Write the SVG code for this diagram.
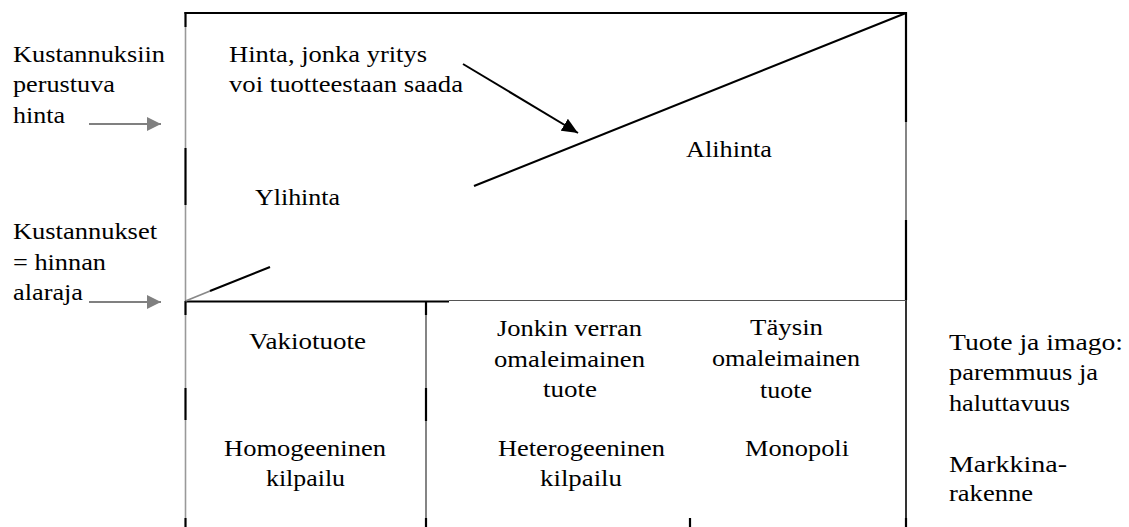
<svg xmlns="http://www.w3.org/2000/svg" width="1129" height="527" viewBox="0 0 1129 527">
<style>
.blk{stroke:#000;stroke-width:2.2;fill:none}
.thin{stroke:#333;stroke-width:1.2;fill:none}
.gry{stroke:#999;stroke-width:1.6;fill:none}
.garr{stroke:#808080;stroke-width:1.8;fill:none}
</style>
<defs>
<marker id="gh" viewBox="0 0 14 14" refX="14" refY="7" markerWidth="14" markerHeight="14" markerUnits="userSpaceOnUse" orient="auto"><path d="M0,0 L14,7 L0,14 Z" fill="#808080"/></marker>
<marker id="bh" viewBox="0 0 16 14" refX="16" refY="7" markerWidth="16" markerHeight="14" markerUnits="userSpaceOnUse" orient="auto"><path d="M0,0 L16,7 L0,14 Z" fill="#000"/></marker>
</defs>
<rect width="1129" height="527" fill="#fff"/>
<g id="frame">
<line class="blk" x1="184.5" y1="13" x2="907" y2="13"/>
<line class="blk" x1="185.5" y1="12" x2="185.5" y2="27"/>
<line class="gry" x1="185.5" y1="27" x2="185.5" y2="148"/>
<line class="blk" x1="185.5" y1="148" x2="185.5" y2="205"/>
<line class="gry" x1="185.5" y1="205" x2="185.5" y2="301"/>
<line class="blk" x1="185.5" y1="301" x2="185.5" y2="315"/>
<line class="gry" x1="185.5" y1="315" x2="185.5" y2="388"/>
<line class="blk" x1="185.5" y1="388" x2="185.5" y2="420"/>
<line class="gry" x1="185.5" y1="420" x2="185.5" y2="518"/>
<line class="blk" x1="185.5" y1="518" x2="185.5" y2="527"/>
<line class="blk" x1="906" y1="12" x2="906" y2="122"/>
<line class="thin" x1="906" y1="122" x2="906" y2="220"/>
<line class="blk" x1="906" y1="220" x2="906" y2="300"/>
<line stroke="#000" stroke-width="1.6" x1="906" y1="300" x2="906" y2="518"/>
<line class="blk" x1="906" y1="518" x2="906" y2="527" stroke-width="2.6"/>
<line class="blk" x1="185" y1="301.5" x2="449" y2="301.5" stroke-width="2.6"/>
<line stroke="#555" stroke-width="1.2" x1="449" y1="300.5" x2="906" y2="300.5"/>
<line class="blk" x1="426" y1="301" x2="426" y2="315" stroke-width="2.6"/>
<line class="thin" x1="426" y1="315" x2="426" y2="388"/>
<line class="blk" x1="426" y1="388" x2="426" y2="421" stroke-width="2.6"/>
<line class="thin" x1="426" y1="421" x2="426" y2="518"/>
<line class="blk" x1="426" y1="518" x2="426" y2="527" stroke-width="2.6"/>
<line class="blk" x1="690" y1="518" x2="690" y2="527" stroke-width="2.6"/>
</g>
<g id="connectors">
<line stroke="#888" stroke-width="1.8" x1="185.5" y1="301" x2="210" y2="291"/>
<line class="blk" x1="210" y1="291" x2="270" y2="267"/>
<line class="blk" x1="474" y1="186" x2="906" y2="13"/>
<line stroke="#000" stroke-width="2" x1="463" y1="64" x2="578" y2="133" marker-end="url(#bh)"/>
<line class="garr" x1="89" y1="124" x2="161" y2="124" marker-end="url(#gh)"/>
<line class="garr" x1="89" y1="302" x2="161" y2="302" marker-end="url(#gh)"/>
</g>
<g id="left-labels">
<text font-family="Liberation Serif" font-size="24" x="13" y="62" textLength="152" lengthAdjust="spacingAndGlyphs">Kustannuksiin</text>
<text font-family="Liberation Serif" font-size="24" x="13" y="92" textLength="102" lengthAdjust="spacingAndGlyphs">perustuva</text>
<text font-family="Liberation Serif" font-size="24" x="13" y="123" textLength="52" lengthAdjust="spacingAndGlyphs">hinta</text>
<text font-family="Liberation Serif" font-size="24" x="13" y="239" textLength="144" lengthAdjust="spacingAndGlyphs">Kustannukset</text>
<text font-family="Liberation Serif" font-size="24" x="13" y="270" textLength="93" lengthAdjust="spacingAndGlyphs">= hinnan</text>
<text font-family="Liberation Serif" font-size="24" x="13" y="300" textLength="70" lengthAdjust="spacingAndGlyphs">alaraja</text>
</g>
<g id="price-area">
<text font-family="Liberation Serif" font-size="24" x="229" y="62" textLength="198" lengthAdjust="spacingAndGlyphs">Hinta, jonka yritys</text>
<text font-family="Liberation Serif" font-size="24" x="229" y="92" textLength="234" lengthAdjust="spacingAndGlyphs">voi tuotteestaan saada</text>
<text font-family="Liberation Serif" font-size="24" x="255" y="205" textLength="85" lengthAdjust="spacingAndGlyphs">Ylihinta</text>
<text font-family="Liberation Serif" font-size="24" x="686" y="157" textLength="86" lengthAdjust="spacingAndGlyphs">Alihinta</text>
</g>
<g id="col-vakiotuote">
<text font-family="Liberation Serif" font-size="24" x="249" y="349" textLength="117" lengthAdjust="spacingAndGlyphs">Vakiotuote</text>
<text font-family="Liberation Serif" font-size="24" x="224" y="456" textLength="162" lengthAdjust="spacingAndGlyphs">Homogeeninen</text>
<text font-family="Liberation Serif" font-size="24" x="266" y="486" textLength="79" lengthAdjust="spacingAndGlyphs">kilpailu</text>
</g>
<g id="col-jonkin">
<text font-family="Liberation Serif" font-size="24" x="497" y="336" textLength="145" lengthAdjust="spacingAndGlyphs">Jonkin verran</text>
<text font-family="Liberation Serif" font-size="24" x="494" y="367" textLength="151" lengthAdjust="spacingAndGlyphs">omaleimainen</text>
<text font-family="Liberation Serif" font-size="24" x="543" y="397" textLength="54" lengthAdjust="spacingAndGlyphs">tuote</text>
<text font-family="Liberation Serif" font-size="24" x="498" y="456" textLength="167" lengthAdjust="spacingAndGlyphs">Heterogeeninen</text>
<text font-family="Liberation Serif" font-size="24" x="540" y="486" textLength="82" lengthAdjust="spacingAndGlyphs">kilpailu</text>
</g>
<g id="col-taysin">
<text font-family="Liberation Serif" font-size="24" x="750" y="335" textLength="73" lengthAdjust="spacingAndGlyphs">Täysin</text>
<text font-family="Liberation Serif" font-size="24" x="712" y="366" textLength="148" lengthAdjust="spacingAndGlyphs">omaleimainen</text>
<text font-family="Liberation Serif" font-size="24" x="760" y="398" textLength="52" lengthAdjust="spacingAndGlyphs">tuote</text>
<text font-family="Liberation Serif" font-size="24" x="745" y="456" textLength="104" lengthAdjust="spacingAndGlyphs">Monopoli</text>
</g>
<g id="right-labels">
<text font-family="Liberation Serif" font-size="24" x="949" y="350" textLength="174" lengthAdjust="spacingAndGlyphs">Tuote ja imago:</text>
<text font-family="Liberation Serif" font-size="24" x="949" y="380" textLength="149" lengthAdjust="spacingAndGlyphs">paremmuus ja</text>
<text font-family="Liberation Serif" font-size="24" x="949" y="411" textLength="121" lengthAdjust="spacingAndGlyphs">haluttavuus</text>
<text font-family="Liberation Serif" font-size="24" x="949" y="472" textLength="118" lengthAdjust="spacingAndGlyphs">Markkina-</text>
<text font-family="Liberation Serif" font-size="24" x="949" y="501" textLength="84" lengthAdjust="spacingAndGlyphs">rakenne</text>
</g>
</svg>
